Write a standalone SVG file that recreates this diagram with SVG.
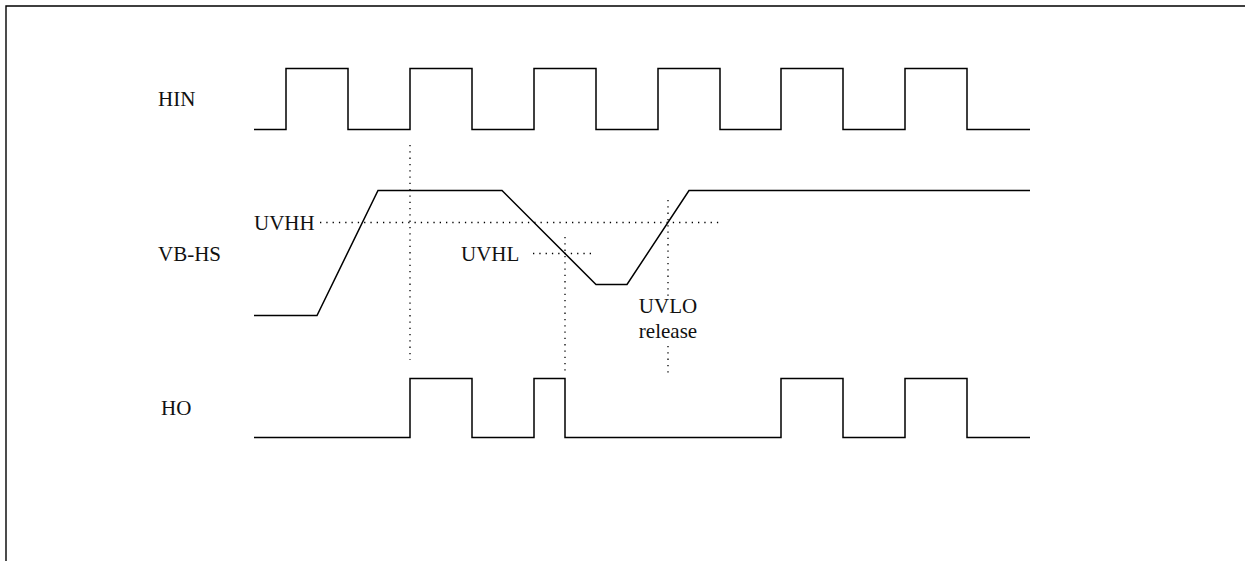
<svg xmlns="http://www.w3.org/2000/svg" width="1245" height="561" viewBox="0 0 1245 561">
<style>
.sig{fill:none;stroke:#000;stroke-width:1.5}
.dot{fill:none;stroke:#000;stroke-width:1.3;stroke-dasharray:1.3 5}
.lbl{font-family:"Liberation Serif","Times New Roman",serif;font-size:21px;fill:#111}
</style>
<rect width="1245" height="561" fill="#fff"/>
<path d="M6,561 V6 H1245" fill="none" stroke="#000" stroke-width="1.4"/>
<g id="HIN">
<text class="lbl" x="158" y="106">HIN</text>
<path class="sig" d="M254,129.5 H286 V68.5 H348 V129.5 H410 V68.5 H472 V129.5 H534 V68.5 H596 V129.5 H658 V68.5 H720 V129.5 H781 V68.5 H843 V129.5 H905 V68.5 H967 V129.5 H1030"/>
</g>
<g id="VBHS">
<text class="lbl" x="158" y="261">VB-HS</text>
<path class="sig" d="M254,315.5 H317 L378,190.5 H502 L596,284.5 H627 L689,190.5 H1030"/>
</g>
<g id="HO">
<text class="lbl" x="161" y="415">HO</text>
<path class="sig" d="M254,437.5 H410 V378.5 H472 V437.5 H534 V378.5 H565 V437.5 H781 V378.5 H843 V437.5 H905 V378.5 H967 V437.5 H1030"/>
</g>
<g id="UVHH">
<text class="lbl" x="254" y="230">UVHH</text>
</g>
<g id="UVHL">
<text class="lbl" x="461" y="261">UVHL</text>
</g>
<g id="UVLO">
<text class="lbl" x="668" y="313" text-anchor="middle">UVLO</text>
<text class="lbl" x="668" y="338" text-anchor="middle">release</text>
</g>
<g id="connectors">
<path class="dot" d="M320,222.5 H722"/>
<path class="dot" d="M533,253.5 H593"/>
<path class="dot" d="M410,145 V360"/>
<path class="dot" d="M565,237 V372"/>
<path class="dot" d="M668,200 V300"/>
<path class="dot" d="M668,346 V373"/>
</g>
</svg>
